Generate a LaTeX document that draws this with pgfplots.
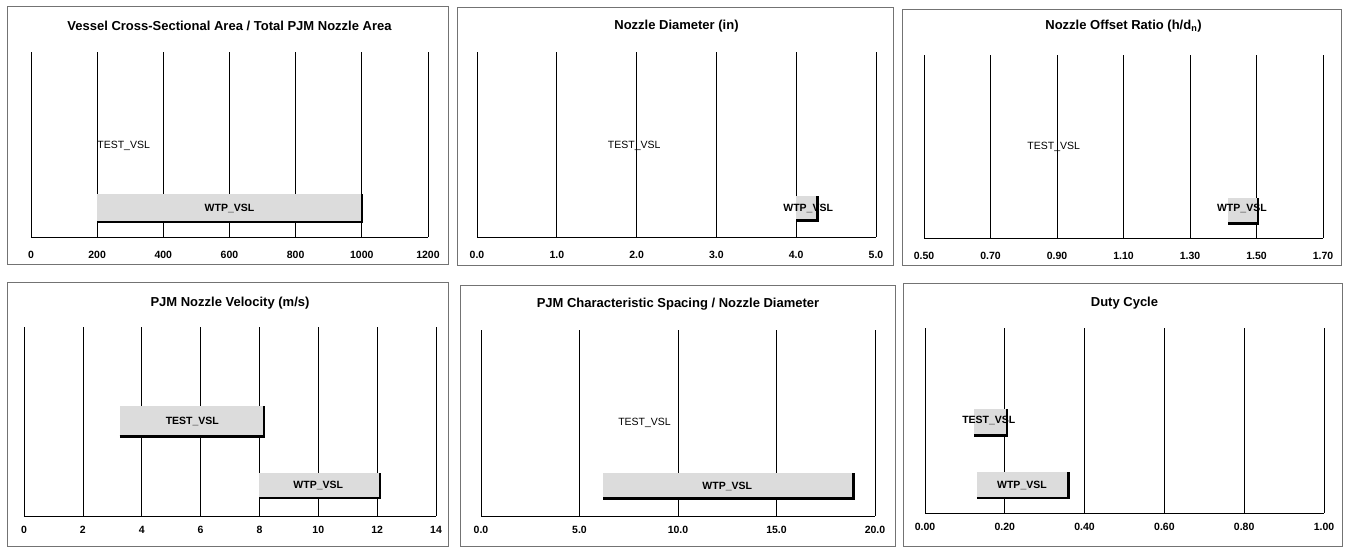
\documentclass[border=0pt]{standalone}
\usepackage{fontspec}
\setmainfont{Liberation Sans}
\usepackage{pgfplots}
\pgfplotsset{compat=1.18}
\definecolor{barfill}{HTML}{DCDCDC}
\pgfplotsset{
  panel/.style={
    scale only axis, anchor=south west,
    ymin=0, ymax=1, enlargelimits=false,
    axis y line=none, axis x line=bottom,
    x axis line style={-, black, line width=0.7pt},
    xmajorgrids, grid style={black, line width=0.7pt},
    major tick length=0pt,
    tick label style={font=\bfseries\fontsize{10.5}{12}\selectfont},
    title style={font=\bfseries\fontsize{13}{15}\selectfont, at={(0.5,1)}, anchor=center},
    clip=false,
  },
  toprow/.style={height=185pt, xticklabel style={yshift=-11pt}},
  botrow/.style={xticklabel style={yshift=-7pt}},
  bar/.style={fill=barfill, draw=none},
  shadow/.style={black, line width=2.5pt},
}
\newcommand{\lbl}{\fontsize{10.5}{12}\selectfont}
\begin{document}
\begin{tikzpicture}
\useasboundingbox (0pt,0pt) rectangle (1345pt,548pt);
% panel frames
\draw[black!55, line width=0.7pt] (7pt,284pt) rectangle (448pt,542pt);
\draw[black!55, line width=0.7pt] (457pt,283pt) rectangle (893pt,541pt);
\draw[black!55, line width=0.7pt] (902pt,283pt) rectangle (1341pt,539pt);
\draw[black!55, line width=0.7pt] (7pt,2pt) rectangle (448pt,266pt);
\draw[black!55, line width=0.7pt] (460pt,2pt) rectangle (895pt,263pt);
\draw[black!55, line width=0.7pt] (903pt,2pt) rectangle (1342pt,265pt);

% Panel 1
\begin{axis}[panel, toprow, at={(31pt,311pt)}, width=397pt,
  title style={yshift=20pt},
  xmin=0, xmax=1200, xtick={0,200,400,600,800,1000,1200},
  xticklabels={0,200,400,600,800,1000,1200},
  title={Vessel Cross-Sectional Area / Total PJM Nozzle Area}]
\addplot[bar] coordinates {(200,0.08) (1000,0.08) (1000,0.23) (200,0.23)} -- cycle;
\addplot[shadow] coordinates {(200,0.08) (1000,0.08) (1000,0.23)};
\node[font=\lbl\bfseries] at (axis cs:600,0.155) {WTP\_VSL};
\node[font=\lbl, anchor=west, inner sep=0pt] at (axis cs:200,0.49) {TEST\_VSL};
\end{axis}

% Panel 2
\begin{axis}[panel, toprow, at={(477pt,311pt)}, width=399pt,
  title style={yshift=20pt},
  xmin=0, xmax=5, xtick={0,1,2,3,4,5},
  xticklabels={0.0,1.0,2.0,3.0,4.0,5.0},
  title={Nozzle Diameter (in)}]
\addplot[bar] coordinates {(4.0,0.09) (4.27,0.09) (4.27,0.22) (4.0,0.22)} -- cycle;
\addplot[shadow] coordinates {(4.0,0.09) (4.27,0.09) (4.27,0.22)};
\node[font=\lbl\bfseries] at (axis cs:4.15,0.155) {WTP\_VSL};
\node[font=\lbl] at (axis cs:1.97,0.49) {TEST\_VSL};
\end{axis}

% Panel 3
\begin{axis}[panel, toprow, at={(924pt,310pt)}, width=399pt, height=183pt,
  title style={yshift=23pt},
  xmin=0.5, xmax=1.7, xtick={0.5,0.7,0.9,1.1,1.3,1.5,1.7},
  xticklabels={0.50,0.70,0.90,1.10,1.30,1.50,1.70},
  title={Nozzle Offset Ratio (h/d\textsubscript{n})}]
\addplot[bar] coordinates {(1.415,0.08) (1.505,0.08) (1.505,0.22) (1.415,0.22)} -- cycle;
\addplot[shadow] coordinates {(1.415,0.08) (1.505,0.08) (1.505,0.22)};
\node[font=\lbl\bfseries] at (axis cs:1.456,0.16) {WTP\_VSL};
\node[font=\lbl] at (axis cs:0.89,0.5) {TEST\_VSL};
\end{axis}

% Panel 4
\begin{axis}[panel, botrow, at={(24pt,32pt)}, width=412pt, height=189pt,
  title style={yshift=18pt},
  xmin=0, xmax=14, xtick={0,2,4,6,8,10,12,14},
  xticklabels={0,2,4,6,8,10,12,14},
  title={PJM Nozzle Velocity (m/s)}]
\addplot[bar] coordinates {(3.25,0.42) (8.15,0.42) (8.15,0.58) (3.25,0.58)} -- cycle;
\addplot[shadow] coordinates {(3.25,0.42) (8.15,0.42) (8.15,0.58)};
\addplot[bar] coordinates {(8.0,0.095) (12.1,0.095) (12.1,0.23) (8.0,0.23)} -- cycle;
\addplot[shadow] coordinates {(8.0,0.095) (12.1,0.095) (12.1,0.23)};
\node[font=\lbl\bfseries] at (axis cs:5.72,0.5) {TEST\_VSL};
\node[font=\lbl\bfseries] at (axis cs:10.0,0.16) {WTP\_VSL};
\end{axis}

% Panel 5
\begin{axis}[panel, botrow, at={(481pt,32pt)}, width=394pt, height=186pt,
  title style={yshift=20pt},
  xmin=0, xmax=20, xtick={0,5,10,15,20},
  xticklabels={0.0,5.0,10.0,15.0,20.0},
  title={PJM Characteristic Spacing / Nozzle Diameter}]
\addplot[bar] coordinates {(6.2,0.095) (18.9,0.095) (18.9,0.23) (6.2,0.23)} -- cycle;
\addplot[shadow] coordinates {(6.2,0.095) (18.9,0.095) (18.9,0.23)};
\node[font=\lbl\bfseries] at (axis cs:12.5,0.16) {WTP\_VSL};
\node[font=\lbl] at (axis cs:8.3,0.5) {TEST\_VSL};
\end{axis}

% Panel 6
\begin{axis}[panel, botrow, at={(925pt,35pt)}, width=399pt, height=185pt,
  title style={yshift=19pt},
  xmin=0, xmax=1, xtick={0,0.2,0.4,0.6,0.8,1},
  xticklabels={0.00,0.20,0.40,0.60,0.80,1.00},
  title={Duty Cycle}]
\addplot[bar] coordinates {(0.123,0.42) (0.205,0.42) (0.205,0.56) (0.123,0.56)} -- cycle;
\addplot[shadow] coordinates {(0.123,0.42) (0.205,0.42) (0.205,0.56)};
\addplot[bar] coordinates {(0.13,0.08) (0.36,0.08) (0.36,0.22) (0.13,0.22)} -- cycle;
\addplot[shadow] coordinates {(0.13,0.08) (0.36,0.08) (0.36,0.22)};
\node[font=\lbl\bfseries] at (axis cs:0.16,0.5) {TEST\_VSL};
\node[font=\lbl\bfseries] at (axis cs:0.243,0.15) {WTP\_VSL};
\end{axis}
\end{tikzpicture}
\end{document}
